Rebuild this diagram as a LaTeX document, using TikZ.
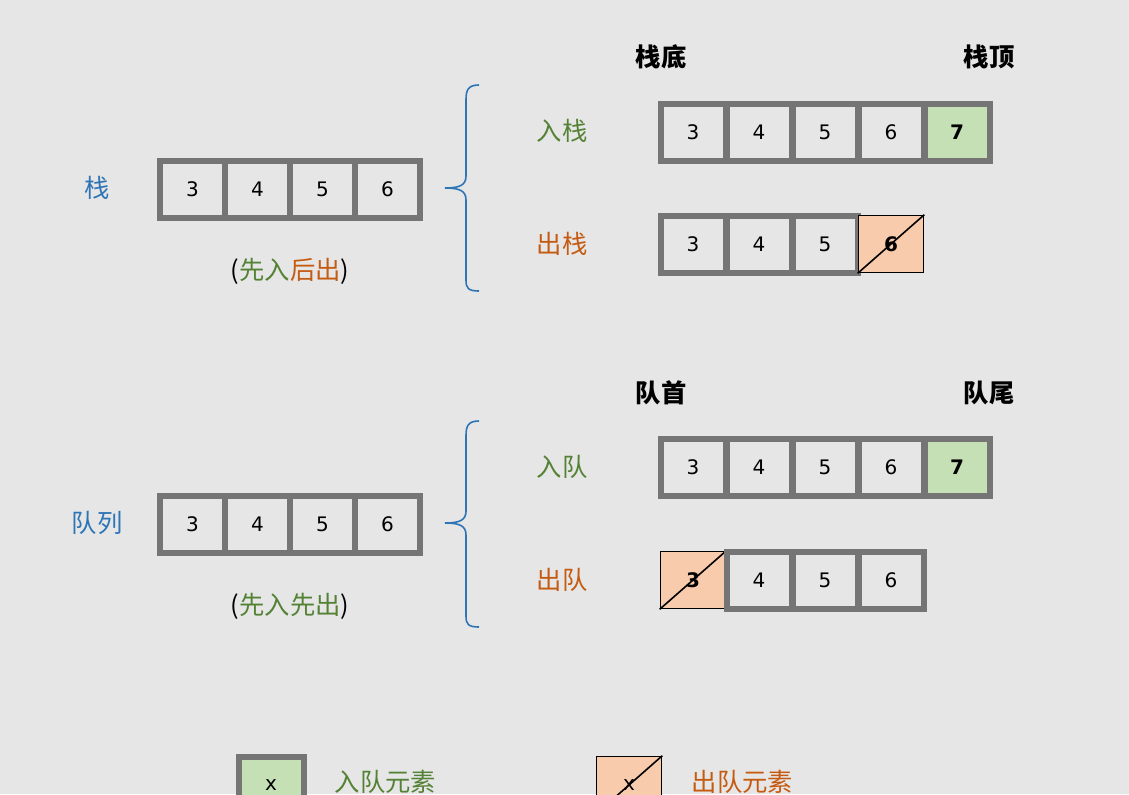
\documentclass[tikz,border=0pt]{standalone}
\usepackage{fontspec}
\setmainfont{Noto Sans CJK SC}
\newfontfamily\numf{DejaVu Sans}
\definecolor{bg}{HTML}{E6E6E6}
\definecolor{cb}{HTML}{757575}
\definecolor{gf}{HTML}{C5E0B4}
\definecolor{of}{HTML}{F8CBAD}
\definecolor{bl}{HTML}{2E75B6}
\definecolor{gr}{HTML}{548235}
\definecolor{orr}{HTML}{C55A11}
\tikzset{
 cell/.style={draw=cb,line width=4.5pt,fill=bg,minimum width=65\pxu,minimum height=57\pxu,inner sep=0pt,font=\numf\fontsize{15}{15}\selectfont},
 incell/.style={cell,fill=gf,font=\numf\bfseries\fontsize{15}{15}\selectfont},
 outcell/.style={draw=black,line width=1.2pt,fill=of,minimum width=65\pxu,minimum height=57\pxu,inner sep=0pt,font=\numf\bfseries\fontsize{15}{15}\selectfont},
 lab/.style={font=\fontsize{19}{19}\selectfont},
 hd/.style={font=\bfseries\fontsize{19}{19}\selectfont},
 brace/.style={draw=bl,line width=1.2pt}
}
\newlength\pxu \setlength\pxu{0.75pt}
\begin{document}
\begin{tikzpicture}[x=0.75pt,y=-0.75pt]
\fill[bg] (0,0) rectangle (1129,794);
\useasboundingbox (0,0) rectangle (1129,794);
% stack left
\foreach \v [count=\i] in {3,4,5,6} \node[cell] (s\i) at ({127.5+65*\i},189) {\v};
\node[lab,text=bl] (sl) at (97,188) {栈};
\node[lab] (sp) at (290,271) {(\textcolor{gr}{先入}\textcolor{orr}{后出})};
\draw[brace] (479,85) .. controls (468,85) and (466,90) .. (466,100) -- (466,176) .. controls (466,185) and (460,188) .. (445,188) .. controls (460,188) and (466,191) .. (466,200) -- (466,280) .. controls (466,288) and (468,291) .. (479,291);
\node[lab,text=gr] (pu) at (562,131) {入栈};
\node[lab,text=orr] (po) at (562,244) {出栈};
\node[hd] (sb) at (661,57) {栈底};
\node[hd] (st) at (989,57) {栈顶};
\foreach \v [count=\i] in {3,4,5,6} \node[cell] (a\i) at ({627+66*\i},132) {\v};
\node[incell] (a5) at (957,132) {7};
\foreach \v [count=\i] in {3,4,5} \node[cell] (b\i) at ({627+66*\i},244) {\v};
\node[outcell] (b4) at (891,244) {6};
\draw[line width=1.2pt] (b4.south west) -- (b4.north east);
% queue left
\foreach \v [count=\i] in {3,4,5,6} \node[cell] (q\i) at ({127.5+65*\i},524) {\v};
\node[lab,text=bl] (ql) at (97,523) {队列};
\node[lab] (qp) at (290,606) {(\textcolor{gr}{先入}\textcolor{gr}{先出})};
\draw[brace] (479,421) .. controls (468,421) and (466,426) .. (466,436) -- (466,511) .. controls (466,520) and (460,523) .. (445,523) .. controls (460,523) and (466,526) .. (466,535) -- (466,616) .. controls (466,624) and (468,627) .. (479,627);
\node[lab,text=gr] (qu) at (562,467) {入队};
\node[lab,text=orr] (qo) at (562,580) {出队};
\node[hd] (qh) at (661,393) {队首};
\node[hd] (qt) at (989,393) {队尾};
\foreach \v [count=\i] in {3,4,5,6} \node[cell] (c\i) at ({627+66*\i},467) {\v};
\node[incell] (c5) at (957,467) {7};
\node[outcell] (d1) at (693,580) {3};
\draw[line width=1.2pt] (d1.south west) -- (d1.north east);
\foreach \v [count=\i from 2] in {4,5,6} \node[cell] (d\i) at ({627+66*\i},580) {\v};
% legend
\node[incell,font=\numf\fontsize{15}{15}\selectfont] (lg) at (271,785) {x};
\node[lab,text=gr,anchor=west] (lgt) at (330,782) {入队元素};
\node[outcell,font=\numf\fontsize{15}{15}\selectfont] (lo) at (629,785) {x};
\draw[line width=1.2pt] (lo.south west) -- (lo.north east);
\node[lab,text=orr,anchor=west] (lot) at (687,782) {出队元素};
\end{tikzpicture}
\end{document}
